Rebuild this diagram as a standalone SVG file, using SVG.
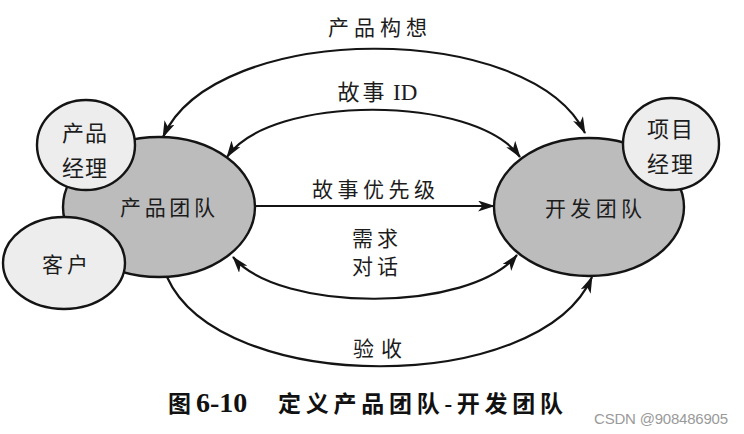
<svg xmlns="http://www.w3.org/2000/svg" width="744" height="434" viewBox="0 0 744 434">
<style>
.big{fill:#bcbcbc;stroke:#141414;stroke-width:2.4}
.small{fill:#ededed;stroke:#141414;stroke-width:2.4}
.lbl{font-family:"Liberation Serif","Noto Sans CJK SC",serif;font-size:21px;fill:#1c1c1c;text-anchor:middle}
.edge{fill:none;stroke:#141414;stroke-width:2.2}
.cap{font-family:"Liberation Serif","Noto Sans CJK SC",serif;font-size:23px;font-weight:bold;fill:#111}
.wm{font-family:"Liberation Sans",sans-serif;font-size:15px;fill:#9a9a9a}
</style>
<defs>
<marker id="ah" viewBox="0 0 17 11" refX="16" refY="5.5" markerWidth="17" markerHeight="11" markerUnits="userSpaceOnUse" orient="auto-start-reverse">
<path d="M0,0 L17,5.5 L0,11 L4.5,5.5 z" fill="#141414"/>
</marker>
</defs>
<rect width="744" height="434" fill="#ffffff"/>
<g id="connectors">
<path class="edge" d="M163,137 C215,20 530,20 585,133" marker-start="url(#ah)" marker-end="url(#ah)"/>
<path class="edge" d="M227,157 C270,94 475,94 520,157" marker-start="url(#ah)" marker-end="url(#ah)"/>
<path class="edge" d="M255,206 L494,206" marker-end="url(#ah)"/>
<path class="edge" d="M233,257 C280,313 470,313 517,255" marker-start="url(#ah)" marker-end="url(#ah)"/>
<path class="edge" d="M167,277 C220,396 540,396 592,277" marker-end="url(#ah)"/>
</g>
<g id="product-team">
<ellipse class="big" cx="159" cy="207" rx="96" ry="70"/>
<text class="lbl" x="167.5" y="215" textLength="95">产品团队</text>
</g>
<g id="product-manager">
<ellipse class="small" cx="86" cy="145" rx="49" ry="45"/>
<text class="lbl" x="84.5" y="141" textLength="45" style="font-size:22px">产品</text>
<text class="lbl" x="84.5" y="176" textLength="45" style="font-size:22px">经理</text>
</g>
<g id="customer">
<ellipse class="small" cx="64" cy="263" rx="61" ry="46"/>
<text class="lbl" x="65" y="272" textLength="46">客户</text>
</g>
<g id="dev-team">
<ellipse class="big" cx="589" cy="207" rx="95" ry="69"/>
<text class="lbl" x="593.5" y="216" textLength="97">开发团队</text>
</g>
<g id="project-manager">
<ellipse class="small" cx="671" cy="144" rx="48" ry="46"/>
<text class="lbl" x="670" y="137" textLength="46" style="font-size:22px">项目</text>
<text class="lbl" x="670" y="172" textLength="46" style="font-size:22px">经理</text>
</g>
<g id="labels">
<text class="lbl" x="377.5" y="35" textLength="99">产品构想</text>
<text class="lbl" x="377.5" y="100" style="font-size:22px"><tspan letter-spacing="3">故事</tspan> <tspan style="font-size:23px">ID</tspan></text>
<text class="lbl" x="373.5" y="197" textLength="123">故事优先级</text>
<text class="lbl" x="375" y="246" textLength="46">需求</text>
<text class="lbl" x="375" y="274" textLength="46">对话</text>
<text class="lbl" x="377.5" y="356" textLength="49">验收</text>
</g>
<g id="caption">
<text class="cap" x="168" y="412">图</text>
<text class="cap" x="196" y="412" style="font-size:28px">6-10</text>
<text class="cap" x="278" y="412" textLength="285">定义产品团队-开发团队</text>
<text class="wm" x="594" y="424" textLength="134">CSDN @908486905</text>
</g>
</svg>
